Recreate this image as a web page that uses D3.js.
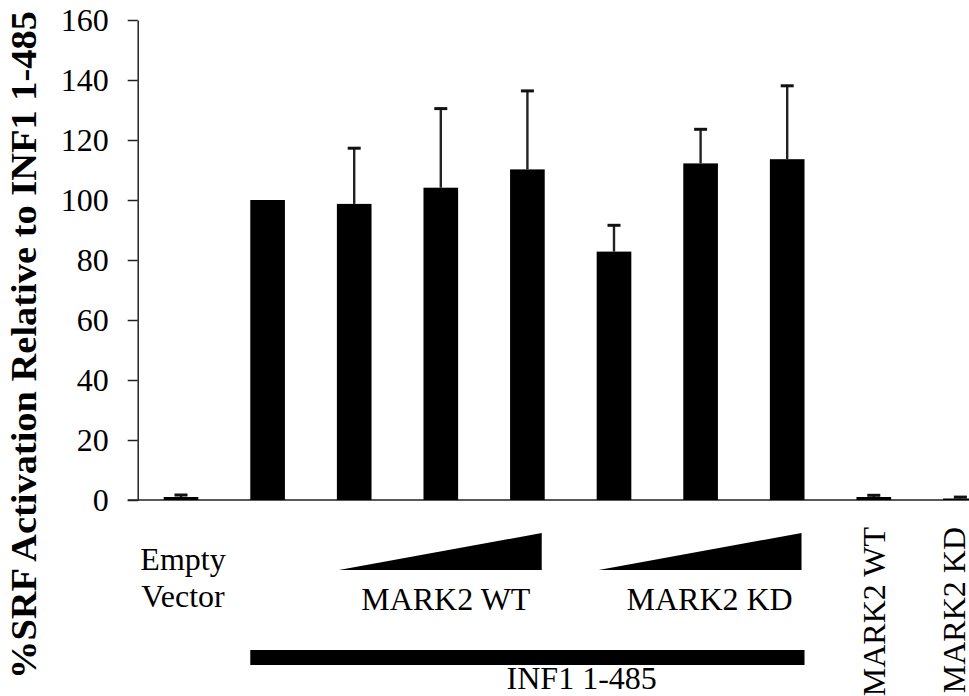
<!DOCTYPE html>
<html>
<head>
<meta charset="utf-8">
<script src="https://cdn.jsdelivr.net/npm/d3@7"></script>
<style>
  body { margin: 0; background: #fff; }
  svg { display: block; }
  text { font-family: "Times New Roman", "Liberation Serif", "DejaVu Serif", serif; fill: #000; }
</style>
</head>
<body>
<svg id="chart" width="969" height="696"></svg>
<script>
// Conditions, in plotting order
const categories = [
  "Empty Vector",
  "INF1 1-485",
  "INF1 + MARK2 WT (low)",
  "INF1 + MARK2 WT (mid)",
  "INF1 + MARK2 WT (high)",
  "INF1 + MARK2 KD (low)",
  "INF1 + MARK2 KD (mid)",
  "INF1 + MARK2 KD (high)",
  "MARK2 WT",
  "MARK2 KD"
];
// % SRF activation (mean) and upper error
const means  = [1.0, 100, 98.7, 104.1, 110.2, 82.8, 112.2, 113.6, 1.0, 0.5];
const errors = [1.0, 0, 18.9, 26.7, 26.5, 9.1, 11.7, 24.8, 0.9, 0.8];
const yTicks = [0, 20, 40, 60, 80, 100, 120, 140, 160];
const yTitle = "%SRF Activation Relative to INF1 1-485";

const svg = d3.select("#chart");
const serif = '"Times New Roman", "Liberation Serif", "DejaVu Serif", serif';

const x0 = 137.7, step = 86.6;
const x = d3.scaleBand()
  .domain(categories)
  .range([x0, x0 + step * categories.length])
  .paddingInner(0.6)
  .paddingOuter(0.3);

const y = d3.scaleLinear().domain([0, 160]).range([500, 20]);

// y axis
const yAxis = svg.append("g")
  .attr("transform", `translate(${x0},0)`)
  .call(d3.axisLeft(y).tickValues(yTicks).tickSize(10).tickPadding(19).tickSizeOuter(0));
yAxis.attr("font-family", serif).attr("font-size", 32);
yAxis.select(".domain").attr("stroke", "#222").attr("stroke-width", 1.5);
yAxis.selectAll(".tick line").attr("stroke", "#222").attr("stroke-width", 1.5);
yAxis.selectAll(".tick text")
  .style("font-family", serif)
  .style("font-size", "32px")
  .attr("fill", "#000");

// baseline
svg.append("line")
  .attr("x1", x0 - 10).attr("x2", 969)
  .attr("y1", y(0)).attr("y2", y(0))
  .attr("stroke", "#222").attr("stroke-width", 1.5);

// bars
svg.append("g").selectAll("rect")
  .data(categories)
  .join("rect")
  .attr("x", d => x(d))
  .attr("width", x.bandwidth())
  .attr("y", (d, i) => y(means[i]))
  .attr("height", (d, i) => y(0) - y(means[i]))
  .attr("fill", "#000");

// upper error bars
const eb = svg.append("g");
categories.forEach((c, i) => {
  if (errors[i] <= 0) return;
  const cx = x(c) + x.bandwidth() / 2;
  const top = y(means[i] + errors[i]);
  eb.append("line")
    .attr("x1", cx).attr("x2", cx)
    .attr("y1", y(means[i])).attr("y2", top)
    .attr("stroke", "#222").attr("stroke-width", 2.4);
  eb.append("line")
    .attr("x1", cx - 6.5).attr("x2", cx + 6.5)
    .attr("y1", top + 1).attr("y2", top + 1)
    .attr("stroke", "#111").attr("stroke-width", 3);
});

// y title
svg.append("text")
  .attr("transform", "translate(24,345) rotate(-90)")
  .attr("text-anchor", "middle")
  .attr("dominant-baseline", "central")
  .attr("textLength", 668)
  .attr("lengthAdjust", "spacingAndGlyphs")
  .style("font-size", "36px")
  .style("font-weight", "bold")
  .text(yTitle);

// lower annotation: empty vector
const bc = i => x(categories[i]) + x.bandwidth() / 2;
svg.append("text").attr("x", bc(0) + 2).attr("y", 570)
  .attr("text-anchor", "middle").style("font-size", "32px").text("Empty");
svg.append("text").attr("x", bc(0) + 2).attr("y", 607)
  .attr("text-anchor", "middle").style("font-size", "32px").text("Vector");

// dose ramps
const ramps = [
  { from: 2, to: 4, label: "MARK2 WT", dx: 5 },
  { from: 5, to: 7, label: "MARK2 KD", dx: 9 }
];
ramps.forEach(r => {
  const xa = x(categories[r.from]) + 2;
  const xb = x(categories[r.to]) + x.bandwidth() - 3;
  svg.append("path")
    .attr("d", `M${xa},570 L${xb},570 L${xb},533 Z`)
    .attr("fill", "#000");
  svg.append("text")
    .attr("x", bc(r.from + 1) + r.dx).attr("y", 610)
    .attr("text-anchor", "middle").style("font-size", "32px").text(r.label);
});

// INF1 bracket bar
const ia = x(categories[1]), ib = x(categories[7]) + x.bandwidth();
svg.append("rect")
  .attr("x", ia).attr("y", 650).attr("width", ib - ia).attr("height", 15)
  .attr("fill", "#000");
svg.append("text").attr("x", (bc(4) + bc(5)) / 2 + 11).attr("y", 689)
  .attr("text-anchor", "middle").style("font-size", "32px").text("INF1 1-485");

// rotated single-construct labels
const rotShift = { 8: 11, 9: 5 };
[8, 9].forEach(i => {
  svg.append("text")
    .attr("transform", `translate(${bc(i) + rotShift[i]},527) rotate(-90)`)
    .attr("text-anchor", "end")
    .style("font-size", "32px")
    .text(categories[i]);
});
</script>
</body>
</html>
